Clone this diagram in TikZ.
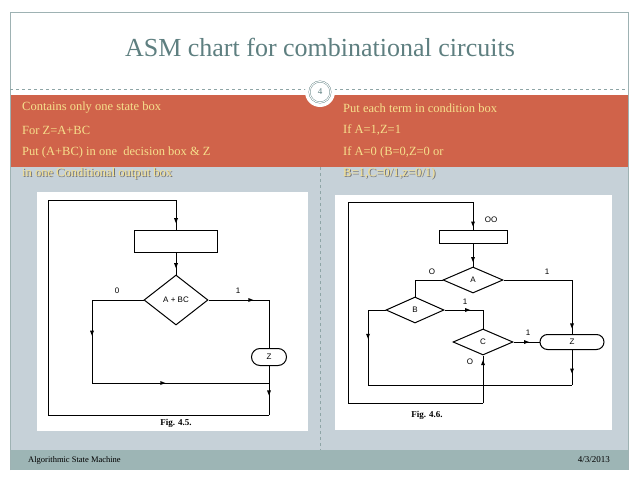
\documentclass[tikz,border=0pt]{standalone}
\usepackage{fontspec}
\setmainfont{Liberation Serif}
\setsansfont{Liberation Sans}
\usetikzlibrary{decorations.markings,shapes.geometric,shapes.misc}
\definecolor{band}{HTML}{D0634A}
\definecolor{slate}{HTML}{C6D1D8}
\definecolor{foot}{HTML}{9DB5B5}
\definecolor{ttl}{HTML}{5E7F80}
\definecolor{yel}{HTML}{F6E08C}
\tikzset{
 x=1pt,y=-1pt,
 ln/.style={line width=1pt,black},
 ma/.style={postaction={decorate},decoration={markings,mark=at position #1 with {\fill (2.5,0)--(-2.5,2)--(-2.5,-2)--cycle;}}},
 sbox/.style={draw,line width=1pt,rectangle,inner sep=0pt},
 dbox/.style={draw,line width=1pt,diamond,inner sep=0pt,font=\sffamily\fontsize{8}{9}\selectfont},
 obox/.style={draw,line width=1pt,rounded rectangle,inner sep=0pt,font=\sffamily\fontsize{8}{9}\selectfont},
 lab/.style={font=\sffamily\fontsize{8}{9}\selectfont,inner sep=1pt},
 btxt/.style={text=yel,font=\fontsize{12.5}{14}\selectfont,anchor=west,inner sep=0pt},
 shtxt/.style={text=black!55,font=\fontsize{12.5}{14}\selectfont,anchor=west,inner sep=0pt},
}
\begin{document}
\begin{tikzpicture}
\useasboundingbox (0,0) rectangle (638,479);
\fill[white] (0,0) rectangle (638,479);
\fill[band] (10,95) rectangle (628,167);
\fill[slate] (10,167) rectangle (628,450);
\fill[foot] (10,450) rectangle (628,470);
\draw[ttl!60,line width=0.6pt] (10,470)--(10,12)--(628,12)--(628,470);
\draw[ttl!70,dashed,line width=0.4pt] (10,89)--(628,89);
\draw[ttl!70,dashed,line width=0.4pt] (320,167)--(320,450);
\node[text=ttl,font=\fontsize{26}{28}\selectfont] (title) at (320,47) {ASM chart for combinational circuits};
\node[circle,fill=white,minimum size=30pt,inner sep=0pt] (cw) at (320,92) {};
\node[circle,draw=ttl,double=white,double distance=1pt,minimum size=21pt,inner sep=0pt,font=\fontsize{9}{10}\selectfont,text=ttl] (num) at (320,92) {4};
\node[shtxt] (sl4) at (23,174) {in one Conditional output box};
\node[shtxt] (sr4) at (344,174) {B=1,C=0/1,z=0/1)};
\node[btxt] (l1) at (22,108) {Contains only one state box};
\node[btxt] (l2) at (22,130) {For Z=A+BC};
\node[btxt] (l3) at (22,152) {Put (A+BC) in one\ \ decision box \& Z};
\node[btxt] (l4) at (22,173) {in one Conditional output box};
\node[btxt] (r1) at (343,108) {Put each term in condition box};
\node[btxt] (r2) at (343,130) {If A=1,Z=1};
\node[btxt] (r3) at (343,152) {If A=0 (B=0,Z=0 or};
\node[btxt] (r4) at (343,173) {B=1,C=0/1,z=0/1)};
\node[anchor=west,font=\fontsize{8.5}{10}\selectfont,inner sep=0pt] (f1) at (28,460) {Algorithmic State Machine};
\node[anchor=east,font=\fontsize{9}{10}\selectfont,inner sep=0pt] (f2) at (610,460) {4/3/2013};
% ---- Fig 4.5
\fill[white] (37,192) rectangle (308,431);
\node[sbox,minimum width=83pt,minimum height=22pt] (s1) at (176,241) {};
\node[dbox,minimum width=64pt,minimum height=50pt] (d1) at (176,300) {A + BC};
\node[obox,minimum width=35pt,minimum height=17pt] (z1) at (269,357) {Z};
\coordinate (t1) at (48,200); \coordinate (t2) at (176,200);
\coordinate (a1) at (92,300); \coordinate (a2) at (92,383); \coordinate (a3) at (269,383);
\coordinate (b1) at (269,300); \coordinate (b2) at (269,415); \coordinate (b3) at (48,415);
\draw[ln,ma=0.7] (t2)--(s1.north);
\draw[ln,ma=0.6] (s1.south)--(d1.north);
\draw[ln] (d1.west)--(a1);
\draw[ln,ma=0.4] (a1)--(a2);
\draw[ln,ma=0.4] (a2)--(a3);
\draw[ln,ma=0.7] (d1.east)--(b1);
\draw[ln] (b1)--(z1.north);
\draw[ln,ma=0.55] (z1.south)--(b2);
\draw[ln] (b2)--(b3)--(t1)--(t2);
\node[lab] (o1) at (117,291) {0};
\node[lab] (i1) at (238,291) {1};
\node[font=\bfseries\fontsize{9}{10}\selectfont] (c1) at (176,423) {Fig. 4.5.};
% ---- Fig 4.6
\fill[white] (335,195) rectangle (612,430);
\node[sbox,minimum width=68pt,minimum height=13pt] (s2) at (473,236.5) {};
\node[dbox,minimum width=60pt,minimum height=26pt] (dA) at (473,280) {A};
\node[dbox,minimum width=58pt,minimum height=26pt] (dB) at (415,310) {B};
\node[dbox,minimum width=60pt,minimum height=26pt] (dC) at (483,342) {C};
\node[obox,minimum width=64pt,minimum height=15pt] (z2) at (572,342) {Z};
\coordinate (u1) at (348,202); \coordinate (u2) at (473,202);
\coordinate (e1) at (415,280); \coordinate (e2) at (572,280);
\coordinate (g1) at (368,310); \coordinate (g2) at (368,385); \coordinate (g3) at (572,385);
\coordinate (h1) at (483,310);
\coordinate (k1) at (483,403); \coordinate (k2) at (348,403);
\draw[ln,ma=0.8] (u2)--(s2.north);
\draw[ln,ma=0.7] (s2.south)--(dA.north);
\draw[ln] (dA.west)--(e1)--(dB.north);
\draw[ln] (dA.east)--(e2);
\draw[ln,ma=0.85] (e2)--(z2.north);
\draw[ln] (dB.west)--(g1);
\draw[ln,ma=0.35] (g1)--(g2);
\draw[ln] (g2)--(g3);
\draw[ln,ma=0.6] (z2.south)--(g3);
\draw[ln,ma=0.6] (dB.east)--(h1);
\draw[ln] (h1)--(dC.north);
\draw[ln,ma=0.5] (dC.east)--(z2.west);
\draw[ln,ma=0.85] (k1)--(dC.south);
\draw[ln] (k1)--(k2)--(u1)--(u2);
\node[lab] (oo) at (491,220) {OO};
\node[lab] (o2) at (432,272) {O};
\node[lab] (i2) at (547,272) {1};
\node[lab] (i3) at (465,302) {1};
\node[lab] (i4) at (528,333) {1};
\node[lab] (o3) at (470,362) {O};
\node[font=\bfseries\fontsize{9}{10}\selectfont] (c2) at (427,415) {Fig. 4.6.};
\end{tikzpicture}
\end{document}
